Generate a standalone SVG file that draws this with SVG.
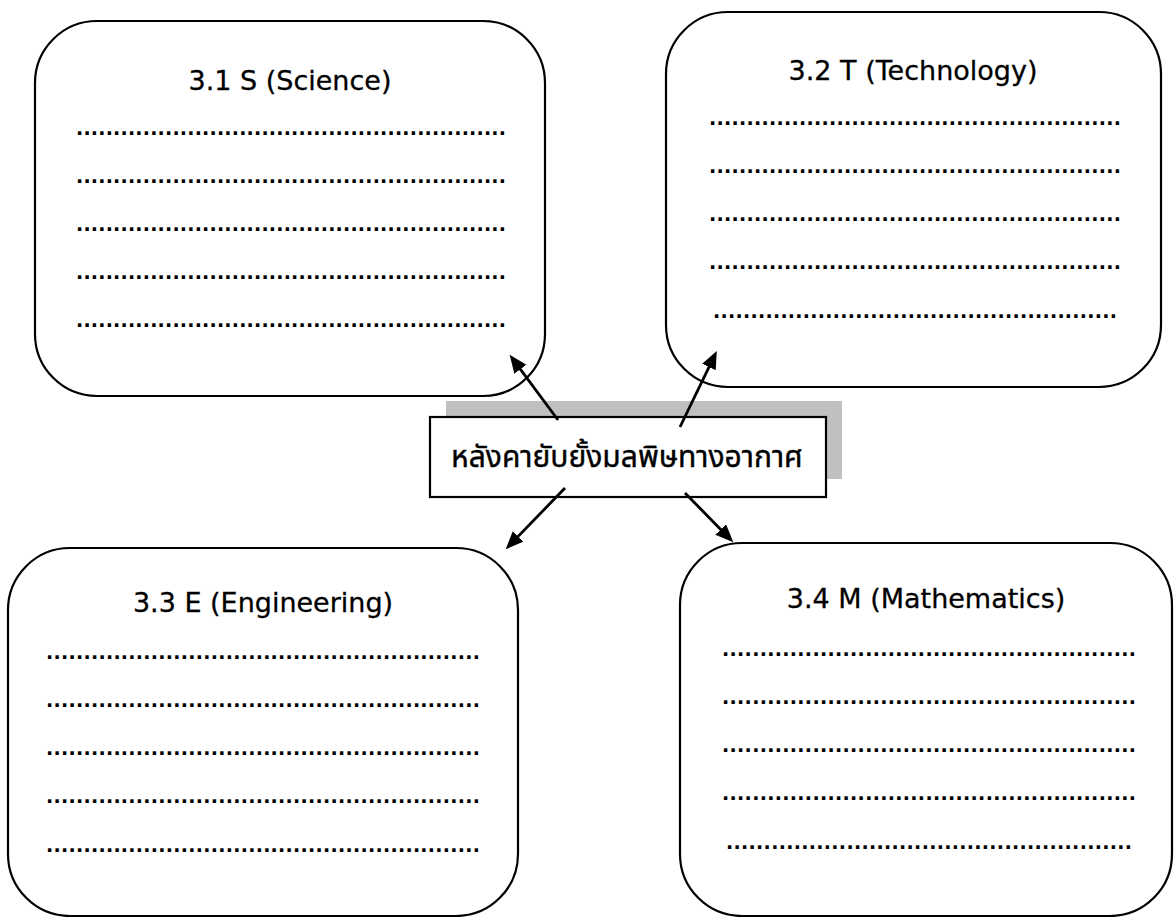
<svg xmlns="http://www.w3.org/2000/svg" width="1174" height="917" viewBox="0 0 1174 917">
<style>
.box{fill:#fff;stroke:#000;stroke-width:2.2}
.title{font-family:"DejaVu Sans","Noto Sans",sans-serif;font-size:27px;fill:#000;text-anchor:middle;stroke:#000;stroke-width:0.3}
.dots{font-family:"DejaVu Sans","Liberation Sans",sans-serif;font-size:19px;font-weight:bold;fill:#000}
.center{font-family:"Noto Sans Thai","Tahoma","Loma","Garuda","Noto Sans","DejaVu Sans",sans-serif;font-size:30px;fill:#000;text-anchor:middle;stroke:#000;stroke-width:0.4}
.conn{stroke:#000;stroke-width:2.8;fill:none;marker-end:url(#ah)}
</style>
<defs>
<marker id="ah" markerUnits="userSpaceOnUse" markerWidth="19" markerHeight="16" refX="7" refY="7.5" orient="auto">
<path d="M0,0 L18,7.5 L0,15 z" fill="#000"/>
</marker>
</defs>
<rect width="1174" height="917" fill="#fff"/>
<g id="science">
<rect class="box" x="35" y="21" width="510" height="375" rx="62" ry="62"/>
<text class="title" x="290" y="90">3.1 S (Science)</text>
<text class="dots" x="76" y="135" textLength="430" lengthAdjust="spacing">..........................................................</text>
<text class="dots" x="76" y="183" textLength="430" lengthAdjust="spacing">..........................................................</text>
<text class="dots" x="76" y="231" textLength="430" lengthAdjust="spacing">..........................................................</text>
<text class="dots" x="76" y="279" textLength="430" lengthAdjust="spacing">..........................................................</text>
<text class="dots" x="76" y="327" textLength="430" lengthAdjust="spacing">..........................................................</text>
</g>
<g id="technology">
<rect class="box" x="666" y="12" width="495" height="375" rx="62" ry="62"/>
<text class="title" x="913" y="80">3.2 T (Technology)</text>
<text class="dots" x="709" y="125" textLength="412" lengthAdjust="spacing">.......................................................</text>
<text class="dots" x="709" y="173" textLength="412" lengthAdjust="spacing">.......................................................</text>
<text class="dots" x="709" y="221" textLength="412" lengthAdjust="spacing">.......................................................</text>
<text class="dots" x="709" y="269" textLength="412" lengthAdjust="spacing">.......................................................</text>
<text class="dots" x="713" y="318" textLength="404" lengthAdjust="spacing">......................................................</text>
</g>
<g id="engineering">
<rect class="box" x="8" y="548" width="510" height="368" rx="62" ry="62"/>
<text class="title" x="263" y="612">3.3 E (Engineering)</text>
<text class="dots" x="46" y="659" textLength="434" lengthAdjust="spacing">..........................................................</text>
<text class="dots" x="46" y="707" textLength="434" lengthAdjust="spacing">..........................................................</text>
<text class="dots" x="46" y="755" textLength="434" lengthAdjust="spacing">..........................................................</text>
<text class="dots" x="46" y="803" textLength="434" lengthAdjust="spacing">..........................................................</text>
<text class="dots" x="46" y="852" textLength="434" lengthAdjust="spacing">..........................................................</text>
</g>
<g id="mathematics">
<rect class="box" x="680" y="543" width="492" height="373" rx="62" ry="62"/>
<text class="title" x="926" y="608">3.4 M (Mathematics)</text>
<text class="dots" x="722" y="656" textLength="414" lengthAdjust="spacing">.......................................................</text>
<text class="dots" x="722" y="704" textLength="414" lengthAdjust="spacing">.......................................................</text>
<text class="dots" x="722" y="752" textLength="414" lengthAdjust="spacing">.......................................................</text>
<text class="dots" x="722" y="800" textLength="414" lengthAdjust="spacing">.......................................................</text>
<text class="dots" x="726" y="849" textLength="406" lengthAdjust="spacing">......................................................</text>
</g>
<g id="topic">
<rect x="446" y="401" width="396" height="78" fill="#c0c0c0"/>
<rect x="430" y="417" width="396" height="80" fill="#fff" stroke="#000" stroke-width="2.2"/>
<text class="center" x="627" y="467">หลังคายับยั้งมลพิษทางอากาศ</text>
</g>
<g id="connectors">
<line class="conn" x1="558" y1="420" x2="516.2" y2="363.6"/>
<line class="conn" x1="680" y1="427" x2="712" y2="360.8"/>
<line class="conn" x1="565" y1="488" x2="513.3" y2="541.4"/>
<line class="conn" x1="685" y1="493" x2="725.6" y2="534.4"/>
</g>
</svg>
